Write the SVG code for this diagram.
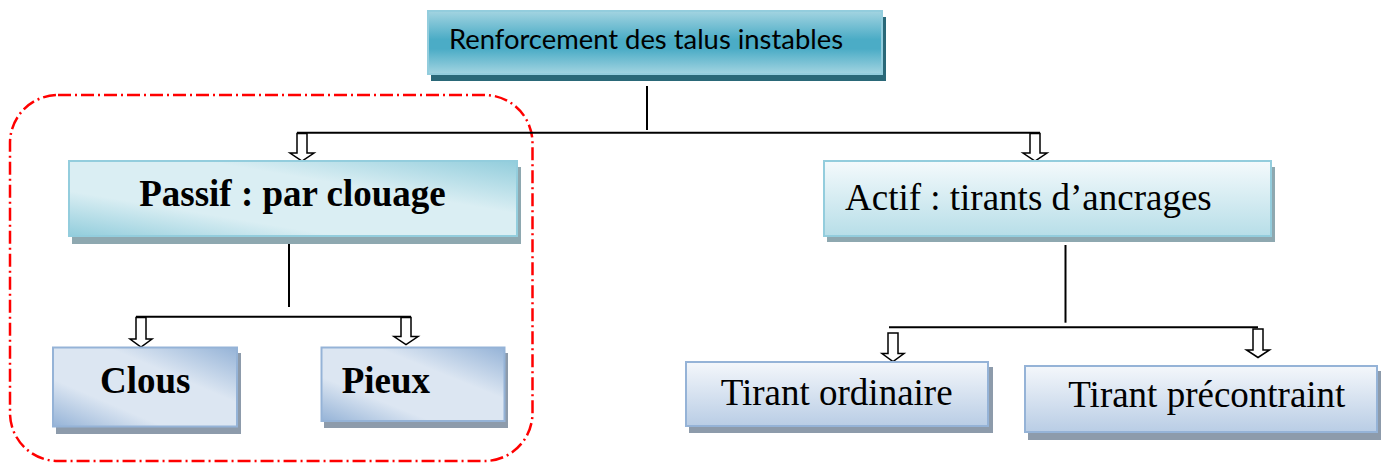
<svg xmlns="http://www.w3.org/2000/svg" width="1386" height="463" viewBox="0 0 1386 463">
<defs>
<linearGradient id="gTop" x1="0" y1="0" x2="0" y2="1">
<stop offset="0" stop-color="#A3D4E1"/>
<stop offset="0.45" stop-color="#4BACC6"/>
<stop offset="0.6" stop-color="#4BACC6"/>
<stop offset="1" stop-color="#A3D4E1"/>
</linearGradient>
<linearGradient id="gTeal" x1="0" y1="1" x2="1" y2="0">
<stop offset="0" stop-color="#92CDDC"/>
<stop offset="0.3" stop-color="#DAEEF3"/>
<stop offset="0.65" stop-color="#DAEEF3"/>
<stop offset="1" stop-color="#92CDDC"/>
</linearGradient>
<linearGradient id="gBlue" x1="0" y1="1" x2="1" y2="0">
<stop offset="0" stop-color="#95B3D7"/>
<stop offset="0.3" stop-color="#DCE6F2"/>
<stop offset="0.65" stop-color="#DCE6F2"/>
<stop offset="1" stop-color="#95B3D7"/>
</linearGradient>
<linearGradient id="gTealV" x1="0" y1="0" x2="0" y2="1">
<stop offset="0" stop-color="#F4FAFC"/>
<stop offset="1" stop-color="#B7DEE8"/>
</linearGradient>
<linearGradient id="gBlueV" x1="0" y1="0" x2="0" y2="1">
<stop offset="0" stop-color="#F4F7FB"/>
<stop offset="1" stop-color="#B9CDE5"/>
</linearGradient>
</defs>
<style>
.sh-top{fill:#2A6878}
.sh-teal{fill:#8EA8B0}
.sh-blue{fill:#8D9BAB}
.bx-top{fill:url(#gTop);stroke:#93CDDD;stroke-width:2}
.bx-teal{fill:url(#gTeal);stroke:#93CDDD;stroke-width:2}
.bx-blue{fill:url(#gBlue);stroke:#95B3D7;stroke-width:2}
.bx-tealv{fill:url(#gTealV);stroke:#93CDDD;stroke-width:2}
.bx-bluev{fill:url(#gBlueV);stroke:#95B3D7;stroke-width:2}
.t-cal{font-family:Lato,"Liberation Sans",sans-serif;font-size:26px;fill:#000}
.t-ser{font-family:"Liberation Serif","Times New Roman",serif;font-size:37px;fill:#000}
.t-bold{font-weight:bold}
.ln{stroke:#000;stroke-width:2;fill:none}
.ar{fill:#fff;stroke:#000;stroke-width:1.5;stroke-linejoin:miter}
.frame{fill:none;stroke:#FF0000;stroke-width:2.5;stroke-dasharray:13 4 2 4}
</style>

<rect class="frame" x="10" y="95" width="522.5" height="366" rx="48" ry="48"/>

<g id="connectors">
<path class="ln" d="M647 86V130"/>
<path class="ln" d="M297 132.7H1040"/>
<path class="ln" d="M289 244V307"/>
<path class="ln" d="M136 316.7H411"/>
<path class="ln" d="M1065.5 245V322.7"/>
<path class="ln" d="M889 327.3H1258"/>
<path class="ar" d="M297 133.5H307V153H314L302 161L290 153H297Z"/>
<path class="ar" d="M1030 133.5H1040V153H1047L1035 161L1023 153H1030Z"/>
<path class="ar" d="M136 317.5H146V339H152L141 347L130 339H136Z"/>
<path class="ar" d="M401 317.5H411V336.5H418L406 344.5L394 336.5H401Z"/>
<path class="ar" d="M888 333H898V353.5H904L893 361.5L882 353.5H888Z"/>
<path class="ar" d="M1253 329H1263V350H1269.5L1258 357.5L1246.5 350H1253Z"/>
</g>

<g id="node-root">
<rect class="sh-top" x="431" y="17" width="455" height="64"/>
<rect class="bx-top" x="428" y="11" width="454" height="63"/>
<text class="t-cal" x="449" y="49" textLength="394" lengthAdjust="spacingAndGlyphs">Renforcement des talus instables</text>
</g>

<g id="node-passif">
<rect class="sh-teal" x="72" y="167" width="449" height="77"/>
<rect class="bx-teal" x="69" y="161" width="448" height="75"/>
<text class="t-ser t-bold" x="292.5" y="206" text-anchor="middle">Passif : par clouage</text>
</g>

<g id="node-actif">
<rect class="sh-teal" x="827" y="167" width="448" height="75"/>
<rect class="bx-tealv" x="824" y="161" width="447" height="75"/>
<text class="t-ser" x="845" y="210">Actif : tirants d’ancrages</text>
</g>

<g id="node-clous">
<rect class="sh-blue" x="56" y="353" width="185" height="81"/>
<rect class="bx-blue" x="53" y="347.5" width="184" height="79"/>
<text class="t-ser t-bold" x="100" y="392.7">Clous</text>
</g>

<g id="node-pieux">
<rect class="sh-blue" x="324" y="353" width="184" height="75"/>
<rect class="bx-blue" x="321.5" y="347.5" width="183" height="73.5"/>
<text class="t-ser t-bold" x="341.7" y="392.7">Pieux</text>
</g>

<g id="node-ordinaire">
<rect class="sh-blue" x="689" y="367" width="304" height="66"/>
<rect class="bx-bluev" x="686" y="362" width="302" height="64"/>
<text class="t-ser" x="720.7" y="405">Tirant ordinaire</text>
</g>

<g id="node-precontraint">
<rect class="sh-blue" x="1028" y="371" width="353" height="69"/>
<rect class="bx-bluev" x="1025" y="366" width="352" height="66"/>
<text class="t-ser" x="1068.3" y="406.7">Tirant précontraint</text>
</g>
</svg>
